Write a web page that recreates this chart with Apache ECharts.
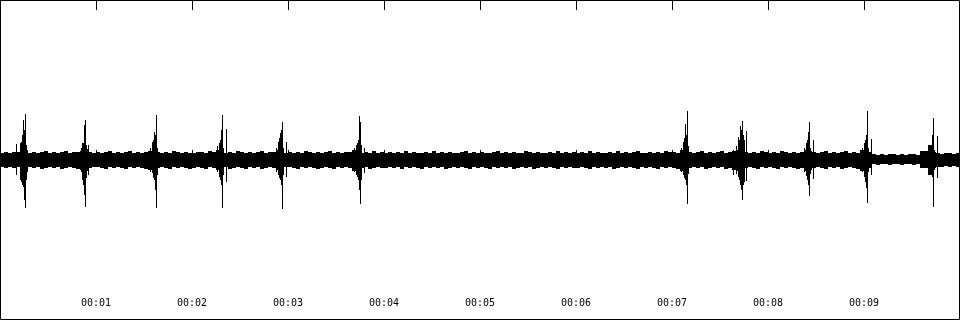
<!DOCTYPE html>
<html><head><meta charset="utf-8">
<script src="https://cdn.jsdelivr.net/npm/echarts@6/dist/echarts.min.js"></script>
<style>html,body{margin:0;padding:0;background:#fff}#c{width:960px;height:320px}</style>
</head><body><div id="c"></div>
<script>
const FRAMES_PER_SEC = 96;   // envelope frames per second
const NOISE_STEP = 4;        // frames per noise-envelope sample
const tickLabels = ['00:01','00:02','00:03','00:04','00:05','00:06','00:07','00:08','00:09'];

const noiseHi = [
  7,8,7,8,8,7,9,7,8,7,8,9,7,8,7,8,9,7,8,8,9,11,8,7,
  8,7,8,9,7,8,7,8,9,7,8,7,8,9,11,8,7,8,7,9,8,7,8,7,
  7,8,8,7,9,8,10,8,7,8,7,9,8,7,8,7,8,9,7,8,8,10,8,7,
  8,7,8,7,9,8,7,8,7,8,9,7,8,7,8,8,10,8,7,8,7,9,7,8,
  7,8,7,8,7,9,7,8,7,7,8,7,9,7,8,7,8,7,7,8,9,7,8,7,
  8,7,7,8,9,7,8,7,8,7,7,9,8,7,8,7,7,8,7,9,7,8,7,8,
  7,8,7,9,7,8,7,7,8,7,9,7,8,7,8,9,7,7,8,7,8,7,9,8,
  8,7,10,9,8,7,8,9,7,8,7,8,9,7,8,9,10,9,8,7,8,7,9,8,
  7,8,7,9,8,7,8,7,8,10,9,8,7,8,9,7,8,7,8,9,7,8,7,10,
  9,8,6,5,6,5,6,6,5,6,5,6,6,5,9,9,9,8,7,6,7,7,6,7
];
const noiseLo = [
  -7,-8,-7,-8,-7,-9,-8,-7,-8,-7,-9,-8,-7,-8,-7,-9,-8,-7,-8,-9,-10,-11,-8,-7,
  -7,-8,-9,-7,-8,-7,-8,-9,-7,-8,-7,-8,-9,-10,-12,-8,-7,-8,-9,-7,-8,-7,-8,-9,
  -8,-7,-8,-9,-7,-8,-10,-8,-7,-9,-8,-7,-8,-9,-7,-8,-7,-9,-8,-7,-8,-10,-8,-7,
  -7,-8,-9,-7,-8,-7,-8,-9,-8,-7,-8,-9,-7,-8,-7,-8,-11,-9,-8,-7,-9,-8,-7,-8,
  -8,-7,-8,-7,-9,-7,-8,-7,-8,-9,-7,-8,-7,-8,-7,-9,-8,-7,-8,-7,-8,-9,-7,-8,
  -7,-8,-9,-7,-8,-7,-8,-7,-9,-8,-7,-8,-7,-9,-8,-7,-8,-7,-8,-9,-7,-8,-7,-8,
  -8,-7,-8,-9,-7,-8,-7,-8,-7,-9,-8,-7,-8,-7,-8,-9,-7,-8,-7,-8,-9,-7,-8,-7,
  -8,-9,-11,-9,-8,-7,-8,-7,-9,-8,-7,-8,-7,-9,-8,-10,-11,-10,-8,-7,-8,-9,-7,-8,
  -7,-8,-9,-7,-8,-7,-8,-9,-8,-11,-10,-8,-7,-8,-9,-7,-8,-7,-9,-8,-7,-8,-9,-11,
  -10,-8,-4,-5,-4,-4,-5,-4,-4,-5,-4,-4,-5,-4,-8,-8,-9,-8,-7,-7,-6,-7,-6,-7
];

const spikeFrame = [16,20,21,22,23,24,25,26,27, 81,82,83,84,85,86,88, 150,152,153,154,155,156,157,
  217,219,220,221,222,223,226, 276,278,279,280,281,282,283,286, 354,356,357,358,359,360,361,364,
  681,683,684,685,686,687,688, 733,736,738,739,740,741,742,743,744,746, 804,806,807,808,809,810,813,
  862,864,865,866,867,868,871, 928,929,930,931,932,933,934,937];
const spikeHi = [16,17,18,25,40,30,46,15,10, 12,17,17,35,40,15,15, 12,18,20,28,25,45,12,
  14,17,20,30,45,12,31, 12,18,22,27,30,38,12,18, 12,15,17,20,44,38,15,12,
  12,18,22,36,25,49,14, 10,14,23,20,34,30,39,25,20,29, 12,17,20,28,38,12,20,
  12,17,20,25,49,12,21, 15,15,15,15,25,42,10,24];
const spikeLo = [-15,-20,-22,-25,-27,-40,-48,-20,-12, -12,-20,-25,-35,-47,-18,-15, -12,-13,-18,-20,-30,-48,-15,
  -12,-17,-20,-25,-48,-15,-22, -12,-15,-18,-20,-25,-49,-15,-17, -12,-15,-17,-20,-30,-44,-20,-13,
  -12,-15,-18,-20,-25,-44,-14, -15,-14,-17,-20,-25,-30,-40,-25,-22,-21, -12,-16,-20,-25,-36,-14,-19,
  -12,-17,-22,-28,-43,-12,-15, -15,-15,-15,-15,-17,-47,-10,-18];

const items = [];
noiseHi.forEach((h, i) => items.push([i * NOISE_STEP / FRAMES_PER_SEC, noiseLo[i], h, NOISE_STEP / FRAMES_PER_SEC]));
spikeFrame.forEach((f, i) => items.push([f / FRAMES_PER_SEC, spikeLo[i], spikeHi[i], 1 / FRAMES_PER_SEC]));

const chart = echarts.init(document.getElementById('c'), null, {renderer: 'canvas'});
const axisCommon = {
  type: 'value', min: 0, max: 10, interval: 1,
  axisLine: {show: false}, splitLine: {show: false},
  axisTick: {show: true, inside: true, length: 10, lineStyle: {color: '#000', width: 1}}
};
chart.setOption({
  animation: false,
  grid: {left: 0, right: 0, top: 0, bottom: 0},
  xAxis: [
    Object.assign({}, axisCommon, {
      position: 'bottom',
      axisLabel: {
        show: true, inside: true, margin: 12, color: '#000',
        fontFamily: 'DejaVu Sans Mono', fontSize: 10,
        showMinLabel: false, showMaxLabel: false,
        formatter: v => tickLabels[Math.round(v) - 1] || ''
      }
    }),
    Object.assign({}, axisCommon, {position: 'top', axisLabel: {show: false}})
  ],
  yAxis: {type: 'value', min: -160, max: 160, show: false},
  graphic: [{
    type: 'rect', z: 100, silent: true,
    shape: {x: 0.5, y: 0.5, width: 959, height: 319},
    style: {fill: null, stroke: '#000', lineWidth: 1}
  }],
  series: [{
    type: 'custom',
    xAxisIndex: 0,
    data: items,
    renderItem: function (params, api) {
      const t = api.value(0), lo = api.value(1), hi = api.value(2), w = api.value(3);
      const p1 = api.coord([t, hi]);
      const p2 = api.coord([t + w, lo]);
      return {
        type: 'rect',
        shape: {x: p1[0], y: p1[1], width: p2[0] - p1[0], height: p2[1] - p1[1]},
        style: {fill: '#000'}
      };
    }
  }]
});
</script>
</body></html>
